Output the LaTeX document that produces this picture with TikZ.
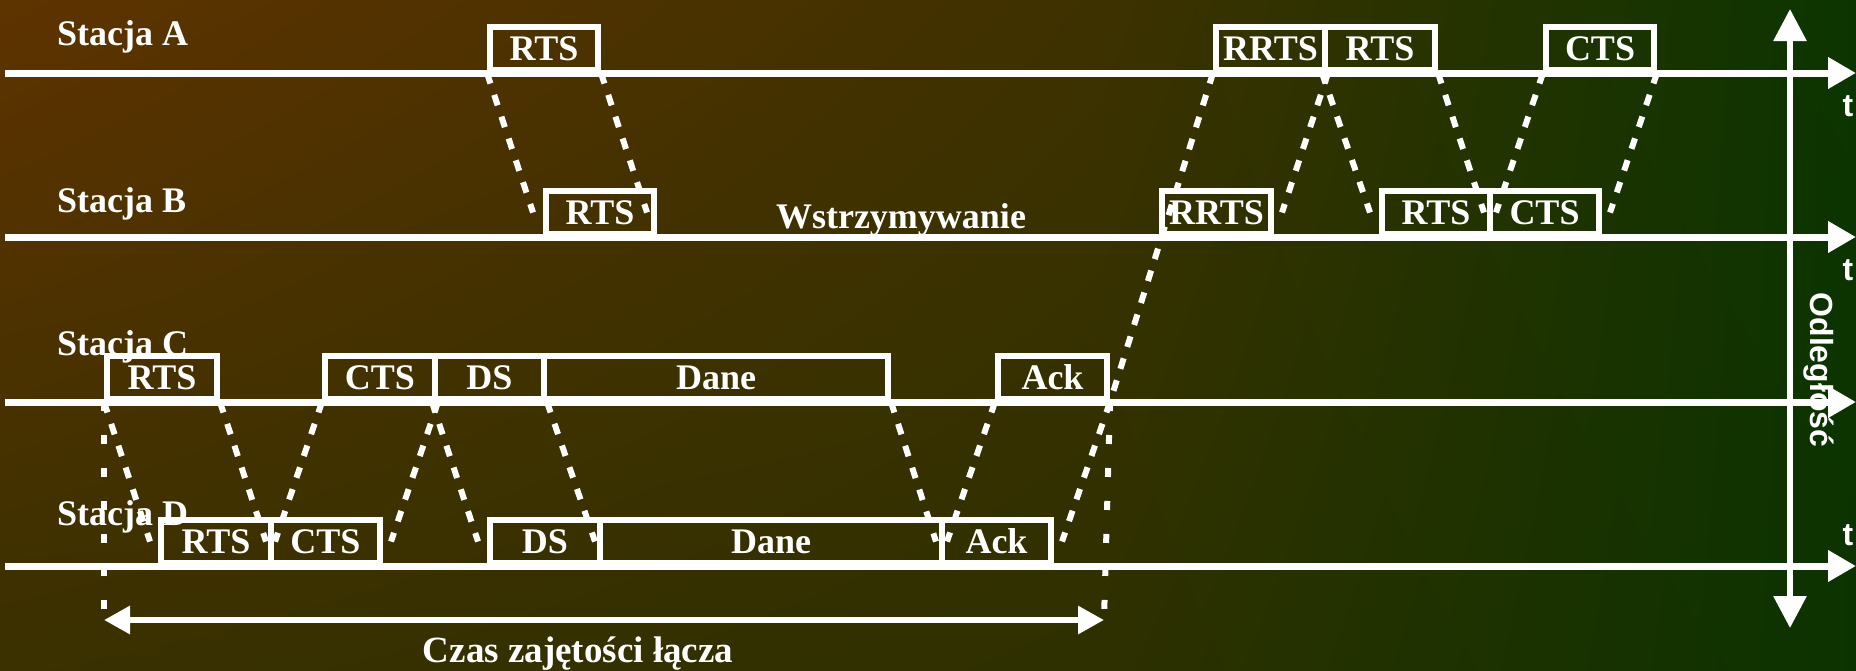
\documentclass[tikz,border=0pt]{standalone}
\usepackage{fontspec}
\setmainfont{Liberation Serif}
\newfontfamily\sansfam{Liberation Sans}
\usetikzlibrary{arrows.meta,shadings}
\definecolor{bgTL}{HTML}{5E3300}
\definecolor{bgTM}{HTML}{3E3100}
\definecolor{bgTR}{HTML}{0B3500}
\definecolor{bgBL}{HTML}{3A3000}
\definecolor{bgBM}{HTML}{2E3000}
\definecolor{bgBR}{HTML}{0B3300}
\begin{document}
\begin{tikzpicture}[x=1pt,y=-1pt,
  tline/.style={white, line width=7pt, -{Triangle[length=28pt,width=30pt]}},
  frame/.style={draw=white, line width=6pt, inner sep=0pt, anchor=south west,
    text=white, font=\fontsize{36}{40}\selectfont\bfseries, minimum height=43pt},
  sig/.style={white, line width=6pt, dash pattern=on 11pt off 12pt},
  busy/.style={white, line width=6pt, dash pattern=on 9pt off 24pt},
  lab/.style={text=white, inner sep=0pt, font=\fontsize{36}{40}\selectfont\bfseries},
  tlab/.style={text=white, inner sep=0pt, anchor=base, font=\fontsize{32}{36}\selectfont\sansfam\bfseries}]
% background
\useasboundingbox (0,0) rectangle (1856,670);
\shade[upper left=bgTL, upper right=bgTM, lower left=bgBL, lower right=bgBM] (0,0) rectangle (1100,670);
\shade[upper left=bgTM, upper right=bgTR, lower left=bgBM, lower right=bgBR] (1100,0) rectangle (1856,670);
% timelines
\coordinate (a0) at (5,73);   \coordinate (a1) at (1856,73);
\coordinate (b0) at (5,237);  \coordinate (b1) at (1856,237);
\coordinate (c0) at (5,402);  \coordinate (c1) at (1856,402);
\coordinate (d0) at (5,566);  \coordinate (d1) at (1856,566);
\draw[tline] (a0) -- (a1);
\draw[tline] (b0) -- (b1);
\draw[tline] (c0) -- (c1);
\draw[tline] (d0) -- (d1);
% distance axis
\coordinate (v0) at (1790,9); \coordinate (v1) at (1790,628);
\draw[white, line width=6pt, {Triangle[length=32pt,width=32pt]}-{Triangle[length=32pt,width=32pt]}] (v0) -- (v1);
% station A
\node[frame, minimum width=108pt] (A_rts) at (487,73) {RTS};
\node[frame, minimum width=109pt] (A_rrts) at (1213,73) {RRTS};
\node[frame, minimum width=110pt] (A_rts2) at (1322,73) {RTS};
\node[frame, minimum width=108pt] (A_cts) at (1543,73) {CTS};
% station B
\node[frame, minimum width=108pt] (B_rts) at (543,237) {RTS};
\node[frame, minimum width=109pt] (B_rrts) at (1159,237) {RRTS};
\node[frame, minimum width=108pt] (B_rts2) at (1379,237) {RTS};
\node[frame, minimum width=109pt] (B_cts) at (1487,237) {CTS};
% station C
\node[frame, minimum width=110pt] (C_rts) at (104,402) {RTS};
\node[frame, minimum width=110pt] (C_cts) at (322,402) {CTS};
\node[frame, minimum width=109pt] (C_ds) at (432,402) {DS};
\node[frame, minimum width=344pt] (C_dane) at (541,402) {Dane};
\node[frame, minimum width=109pt] (C_ack) at (995,402) {Ack};
% station D
\node[frame, minimum width=110pt] (D_rts) at (158,566) {RTS};
\node[frame, minimum width=109pt] (D_cts) at (268,566) {CTS};
\node[frame, minimum width=110pt] (D_ds) at (487,566) {DS};
\node[frame, minimum width=342pt] (D_dane) at (597,566) {Dane};
\node[frame, minimum width=109pt] (D_ack) at (939,566) {Ack};
% signals A-B
\draw[sig] (A_rts.south west) -- ([xshift=-10pt]B_rts.west);
\draw[sig] (A_rts.south east) -- ([xshift=-10pt]B_rts.east);
\draw[sig] (A_rrts.south west) -- (C_ack.south east);
\draw[sig] (A_rrts.south east) -- ([xshift=8pt]B_rrts.east);
\draw[sig] (A_rts2.south west) -- ([xshift=-9pt]B_rts2.west);
\draw[sig] (A_rts2.south east) -- ([xshift=-9pt]B_rts2.east);
\draw[sig] (A_cts.south west) -- ([xshift=9pt]B_cts.west);
\draw[sig] (A_cts.south east) -- ([xshift=8pt]B_cts.east);
% signals C-D
\draw[sig] (C_rts.south west) -- ([xshift=-8pt]D_rts.west);
\draw[sig] (C_rts.south east) -- ([xshift=-8pt]D_rts.east);
\draw[sig] (C_cts.south west) -- ([xshift=7pt]D_cts.west);
\draw[sig] (C_cts.south east) -- ([xshift=8pt]D_cts.east);
\draw[sig] (C_ds.south west) -- ([xshift=-9pt]D_ds.west);
\draw[sig] (C_ds.south east) -- ([xshift=-8pt]D_ds.east);
\draw[sig] (C_dane.south east) -- ([xshift=-9pt]D_dane.east);
\draw[sig] (C_ack.south west) -- ([xshift=8pt]D_ack.west);
\draw[sig] (C_ack.south east) -- ([xshift=8pt]D_ack.east);
% busy period
\coordinate (busyL) at (104,620);
\coordinate (busyR) at (1104,620);
\draw[busy] (C_rts.south west) -- (busyL);
\draw[busy] (C_ack.south east) -- (busyR);
\draw[white, line width=6pt, {Triangle[length=26pt,width=27pt]}-{Triangle[length=26pt,width=27pt]}] (busyL) -- (busyR);
% labels
\node[lab, anchor=base west] (sA) at (57,45) {Stacja A};
\node[lab, anchor=base west] (sB) at (57,212) {Stacja B};
\node[lab, anchor=base west] (sC) at (57,355) {Stacja C};
\node[lab, anchor=base west] (sD) at (57,525) {Stacja D};
\node[lab, anchor=base] (wait) at (901,228) {Wstrzymywanie};
\node[lab, anchor=base, font=\fontsize{37}{40}\selectfont\bfseries] (busytxt) at (578,662) {Czas zajętości łącza};
\node[tlab] (tA) at (1848,116) {t};
\node[tlab] (tB) at (1848,280) {t};
\node[tlab] (tD) at (1848,545) {t};
\node[text=white, inner sep=0pt, rotate=-90, font=\fontsize{32}{36}\selectfont\sansfam\bfseries] (dist) at (1819,370) {Odległość};
\end{tikzpicture}
\end{document}
